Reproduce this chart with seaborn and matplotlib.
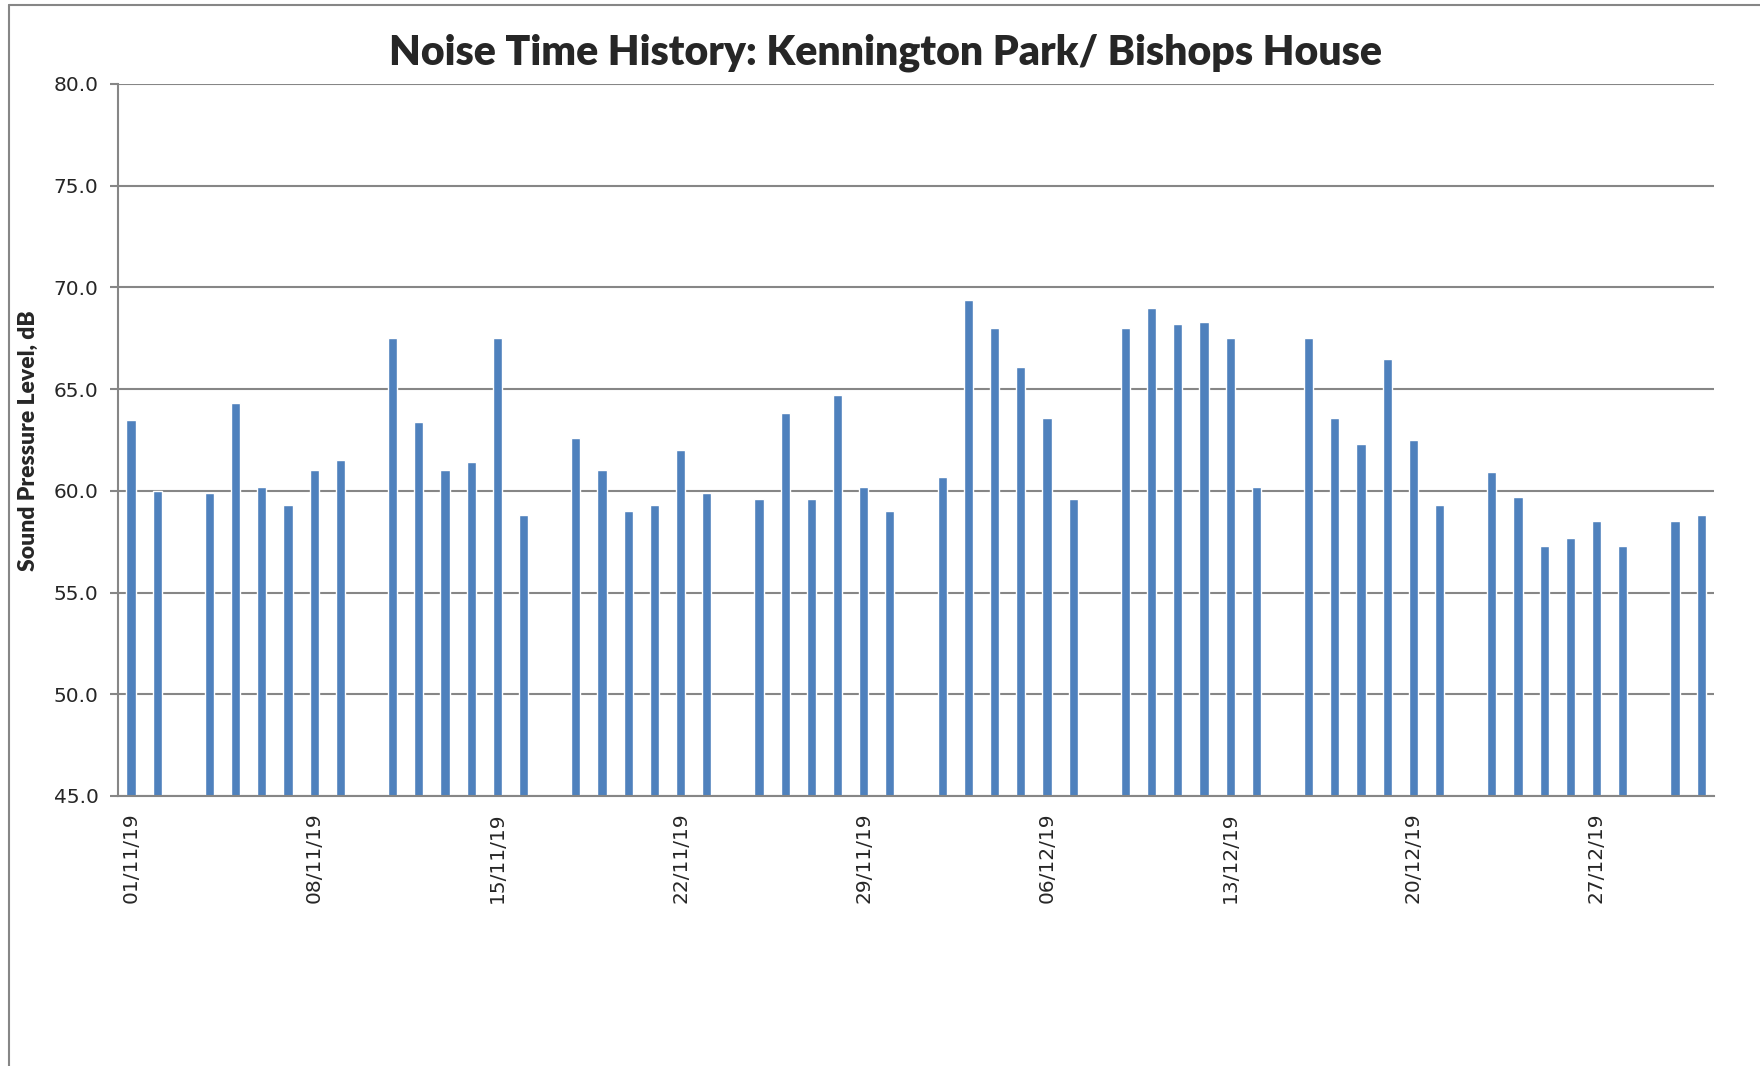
import matplotlib
matplotlib.use("Agg")
import seaborn as sns
import matplotlib.pyplot as plt
import pandas as pd
from matplotlib.lines import Line2D

# daily noise levels (Sundays not measured)
days = ["01/11/19", "02/11/19", "04/11/19", "05/11/19", "06/11/19", "07/11/19",
        "08/11/19", "09/11/19", "11/11/19", "12/11/19", "13/11/19", "14/11/19",
        "15/11/19", "16/11/19", "18/11/19", "19/11/19", "20/11/19", "21/11/19",
        "22/11/19", "23/11/19", "25/11/19", "26/11/19", "27/11/19", "28/11/19",
        "29/11/19", "30/11/19", "02/12/19", "03/12/19", "04/12/19", "05/12/19",
        "06/12/19", "07/12/19", "09/12/19", "10/12/19", "11/12/19", "12/12/19",
        "13/12/19", "14/12/19", "16/12/19", "17/12/19", "18/12/19", "19/12/19",
        "20/12/19", "21/12/19", "23/12/19", "24/12/19", "25/12/19", "26/12/19",
        "27/12/19", "28/12/19", "30/12/19", "31/12/19"]
levels = [63.5, 60.0, 59.9, 64.3, 60.2, 59.3,
          61.0, 61.5, 67.5, 63.4, 61.0, 61.4,
          67.5, 58.8, 62.6, 61.0, 59.0, 59.3,
          62.0, 59.9, 59.6, 63.8, 59.6, 64.7,
          60.2, 59.0, 60.7, 69.4, 68.0, 66.1,
          63.6, 59.6, 68.0, 69.0, 68.2, 68.3,
          67.5, 60.2, 67.5, 63.6, 62.3, 66.5,
          62.5, 59.3, 60.9, 59.7, 57.3, 57.7,
          58.5, 57.3, 58.5, 58.8]
tick_days = ["01/11/19", "08/11/19", "15/11/19", "22/11/19", "29/11/19",
             "06/12/19", "13/12/19", "20/12/19", "27/12/19"]
y_ticks = [45, 50, 55, 60, 65, 70, 75, 80]

all_days = pd.date_range("2019-11-01", "2019-12-31").strftime("%d/%m/%y").tolist()
frame = pd.DataFrame({"day": days, "level": levels})

sns.set_style("white")
plt.rcParams['font.family'] = 'DejaVu Sans'
grey = "#868686"

fig = plt.figure(figsize=(17.6, 10.66), dpi=100)
ax = fig.add_axes([0.067, 0.2533, 0.907, 0.668])

sns.barplot(data=frame, x="day", y="level", order=all_days, color="#4F81BD",
            saturation=1, width=0.35, ax=ax)

ax.set_xlim(-0.5, len(all_days) - 0.5)
ax.set_ylim(45, 80)
ax.set_yticks(y_ticks)
ax.set_yticklabels(["%.1f" % v for v in y_ticks], fontsize=14.5)

pos = [all_days.index(d) for d in tick_days]
ax.set_xticks(pos)
ax.set_xticklabels(tick_days, rotation=90, fontsize=14.5)
ax.set_xticks([p - 0.5 for p in pos], minor=True)
ax.tick_params(axis="x", which="major", length=0, pad=12)
ax.tick_params(axis="x", which="minor", length=6, width=1.5, color=grey, direction="out")
ax.tick_params(axis="y", length=6, width=1.5, color=grey, direction="out", pad=8, left=True)

ax.yaxis.grid(True, color=grey, lw=1.5)
ax.set_axisbelow(True)
sns.despine(ax=ax)
for s in ["left", "bottom"]:
    ax.spines[s].set_color(grey)
    ax.spines[s].set_linewidth(1.5)
ax.set_xlabel("")
ax.set_ylabel("")

fig.text(0.016, 0.587, "Sound Pressure Level, dB", rotation=90, ha="center", va="center",
         fontsize=16.5, fontweight="heavy", family="Lato")
fig.text(0.503, 1 - 53 / 1066, "Noise Time History: Kennington Park/ Bishops House",
         ha="center", va="center", fontsize=29.5, fontweight="heavy", family="Lato")

# chart frame (top and left edges visible)
fig.add_artist(Line2D([9 / 1760, 9 / 1760], [0, 1 - 4.5 / 1066], color=grey, lw=1.5))
fig.add_artist(Line2D([9 / 1760, 1], [1 - 4.5 / 1066, 1 - 4.5 / 1066], color=grey, lw=1.5))

fig.savefig("out.png", dpi=100)
